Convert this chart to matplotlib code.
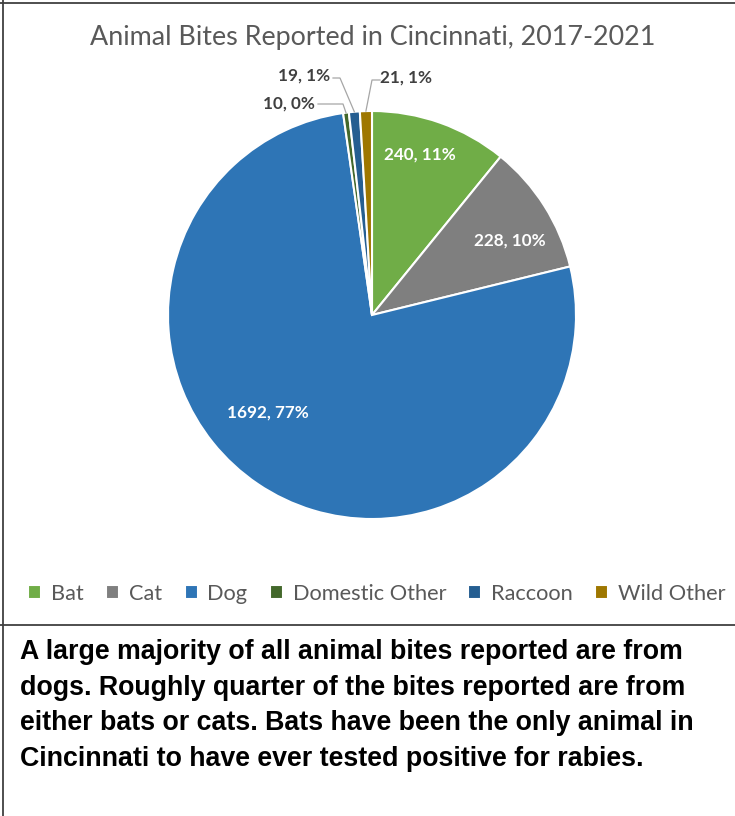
import numpy as np
import matplotlib
matplotlib.use("Agg")
from matplotlib import pyplot as plt
from matplotlib.lines import Line2D

# bite counts by animal, 2017-2021
animals = ["Bat", "Cat", "Dog", "Domestic Other", "Raccoon", "Wild Other"]
bites = [240, 228, 1692, 10, 19, 21]
colors = ["#70AD47", "#7F7F7F", "#2E75B6", "#43682B", "#255E91", "#9E7700"]

title = "Animal Bites Reported in Cincinnati, 2017-2021"
summary = ("A large majority of all animal bites reported are from\n"
           "dogs. Roughly quarter of the bites reported are from\n"
           "either bats or cats. Bats have been the only animal in\n"
           "Cincinnati to have ever tested positive for rabies.")

W, H = 735, 816
fig = plt.figure(figsize=(W / 100, H / 100), dpi=100)

# pie centre (372, 315) px, radius 204 px
cx, cy, r = 372, 315, 204
ax = fig.add_axes([(cx - r) / W, (H - cy - r) / H, 2 * r / W, 2 * r / H])
wedges, _ = ax.pie(bites, colors=colors, startangle=90, counterclock=False,
                   radius=1.0, wedgeprops=dict(edgecolor="white", linewidth=1.5))
ax.set_xlim(-1, 1)
ax.set_ylim(-1, 1)
ax.set_aspect("auto")
ax.axis("off")

total = sum(bites)
labels = [f"{v}, {round(100 * v / total)}%" for v in bites]

def px(x, y):
    # pixel position -> data coords of the pie axes
    return (x - cx) / r, (cy - y) / r

# big slices: label inside, white (radius, angle nudge in degrees)
inside = {0: (0.82, 3), 1: (0.77, -4), 2: (0.70, -12.7)}
for i, (rad, dang) in inside.items():
    w = wedges[i]
    ang = np.deg2rad((w.theta1 + w.theta2) / 2 + dang)
    ax.text(rad * np.cos(ang), rad * np.sin(ang), labels[i], color="white",
            fontsize=12.3, fontweight="bold", family="Lato",
            ha="center", va="center")

# thin slices: label outside with leader line
outside = {3: ((289, 104), (318, 104), (343, 104)),
           4: ((304, 76), (333, 78), (340, 78)),
           5: ((406, 78), (380, 80), (372, 80))}
for i, (tpos, l0, l1) in outside.items():
    w = wedges[i]
    ang = np.deg2rad((w.theta1 + w.theta2) / 2)
    ex, ey = np.cos(ang), np.sin(ang)
    x0, y0 = px(*l0)
    x1, y1 = px(*l1)
    ax.add_line(Line2D([x0, x1, ex], [y0, y1, ey], color="#A6A6A6",
                       linewidth=0.9, clip_on=False))
    tx, ty = px(*tpos)
    ax.text(tx, ty, labels[i], color="#404040", fontsize=12.3,
            fontweight="bold", family="Lato", ha="center", va="center")

fig.text(373 / W, 1 - 38 / H, title, ha="center", va="center",
         fontsize=19.4, color="#595959", family="Lato")

fig.legend(wedges, animals, loc="center", bbox_to_anchor=(377 / W, 1 - 594 / H),
           ncol=6, frameon=False, handlelength=0.6, handleheight=0.6,
           handletextpad=0.45, columnspacing=1.02,
           prop=dict(family="Lato", size=15.7), labelcolor="#595959")

fig.text(20 / W, 1 - 639 / H, summary, ha="left", va="top", fontsize=19.3,
         fontweight="bold", family="Liberation Sans", linespacing=1.48,
         color="black")

# outer frame and divider
for xs, ys in [([3 / W, 3 / W], [0, 1]),
               ([0, 1], [1 - 3 / H, 1 - 3 / H]),
               ([0, 1], [1 - 625 / H, 1 - 625 / H])]:
    fig.add_artist(Line2D(xs, ys, color="#404040", linewidth=1.3))

fig.savefig("out.png", dpi=100)
